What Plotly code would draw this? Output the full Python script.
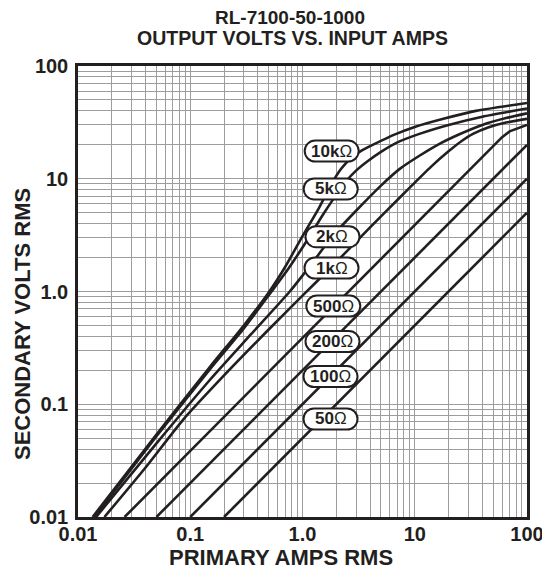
import numpy as np
import plotly.graph_objects as go

# ---------------- data ----------------
x_tickvals = [0.01, 0.1, 1, 10, 100]
x_ticktext = ["0.01", "0.1", "1.0", "10", "100"]
y_tickvals = [0.01, 0.1, 1, 10, 100]
y_ticktext = ["0.01", "0.1", "1.0", "10", "100"]

# primary amps (I) / secondary volts (V) for each burden
r10k_I = [0.0135, 0.05, 0.15, 0.3, 0.5, 0.7, 1.0, 1.4, 1.8, 2.2, 2.7, 3.3, 4.5, 6.5, 10, 18, 35, 100]
r10k_V = [0.01, 0.054, 0.215, 0.5, 0.98, 1.65, 3.1, 5.5, 8.9, 12.2, 15.2, 17.6, 20.6, 24.5, 28.8, 34.0, 40.0, 47.0]

r5k_I = [0.014, 0.05, 0.15, 0.3, 0.53, 0.75, 1.1, 1.5, 1.9, 2.4, 3.0, 3.8, 5.0, 7.0, 11, 20, 40, 100]
r5k_V = [0.01, 0.052, 0.205, 0.47, 1.0, 1.6, 2.85, 4.7, 6.7, 9.3, 11.8, 14.3, 17.3, 21.0, 25.0, 30.0, 35.5, 42.0]

r2k_I = [0.0145, 0.05, 0.15, 0.35, 0.77, 1.2, 1.85, 3.0, 5.0, 7.4, 11, 16, 25, 40, 65, 100]
r2k_V = [0.01, 0.045, 0.165, 0.42, 1.0, 1.75, 3.1, 5.2, 8.7, 12.3, 16.0, 20.0, 24.8, 30.0, 34.5, 38.0]

r1k_I = [0.0172, 0.04, 0.0859, 0.2, 0.5, 1.0, 1.81, 4, 8, 14, 20, 26, 33, 45, 65, 100]
r1k_V = [0.01, 0.0275, 0.0724, 0.18, 0.46, 0.92, 1.65, 3.7, 7.4, 12.8, 17.5, 21.5, 25.0, 28.5, 31.5, 34.0]

r500_I = [0.026, 60, 70, 100]
r500_V = [0.01, 23.4, 26.3, 30.0]

r200_I = [0.05, 100]
r200_V = [0.01, 20.0]

r100_I = [0.1, 100]
r100_V = [0.01, 10.0]

r50_I = [0.2, 100]
r50_V = [0.01, 5.0]

series = [
    ("10k\u03a9", r10k_I, r10k_V, "spline"),
    ("5k\u03a9", r5k_I, r5k_V, "spline"),
    ("2k\u03a9", r2k_I, r2k_V, "spline"),
    ("1k\u03a9", r1k_I, r1k_V, "spline"),
    ("500\u03a9", r500_I, r500_V, "linear"),
    ("200\u03a9", r200_I, r200_V, "linear"),
    ("100\u03a9", r100_I, r100_V, "linear"),
    ("50\u03a9", r50_I, r50_V, "linear"),
]

# label texts and their centre positions (plot-area fractions)
label_text = ["10k", "5k", "2k", "1k", "500", "200", "100", "50"]
label_px = [0.565, 0.5628, 0.5668, 0.5646, 0.5686, 0.5668, 0.5624, 0.5624]
label_py = [0.8115, 0.7273, 0.6215, 0.5521, 0.4678, 0.3891, 0.3115, 0.2173]

# ---------------- styling ----------------
INK = "#231f20"
GRID = "#9d9d9d"
FONT = "Liberation Sans, Arial, Helvetica, sans-serif"

minor_vals = [m * 10.0 ** k for k in range(-2, 2) for m in range(2, 10)]

fig = go.Figure()
for name, xs, ys, shape in series:
    fig.add_trace(go.Scatter(
        x=xs, y=ys, mode="lines", name=name,
        line=dict(color=INK, width=2.6, shape=shape, smoothing=0.6),
        showlegend=False, hoverinfo="skip",
    ))

axis_common = dict(
    type="log", range=[-2, 2], automargin=False,
    showgrid=True, gridcolor=GRID, gridwidth=1,
    showline=True, mirror=True, linecolor=INK, linewidth=2.5,
    ticks="", zeroline=False, ticklabeloverflow="allow",
    minor=dict(tickvals=minor_vals, showgrid=True, gridcolor=GRID, gridwidth=1, ticks=""),
)

fig.update_xaxes(**axis_common, tickvals=x_tickvals, ticktext=x_ticktext,
                 tickfont=dict(family=FONT, size=20, color=INK, weight="bold"),
                 ticklabelstandoff=-3)
fig.update_yaxes(**axis_common, tickvals=y_tickvals, ticktext=y_ticktext,
                 tickfont=dict(family=FONT, size=20, color=INK, weight="bold"),
                 ticklabelstandoff=3)

# rounded label boxes (stadium shape, pixel sized)
W, H = 54.0, 21.0
r = H / 2
a = W / 2 - r
k = 0.5523 * r
stadium = (
    f"M {-a},{-r} L {a},{-r} "
    f"C {a + k},{-r} {a + r},{-k} {a + r},0 "
    f"C {a + r},{k} {a + k},{r} {a},{r} "
    f"L {-a},{r} "
    f"C {-a - k},{r} {-a - r},{k} {-a - r},0 "
    f"C {-a - r},{-k} {-a - k},{-r} {-a},{-r} Z"
)
shapes = []
annotations = []
for txt, px, py in zip(label_text, label_px, label_py):
    shapes.append(dict(
        type="path", xref="paper", yref="paper",
        xsizemode="pixel", ysizemode="pixel", xanchor=px, yanchor=py,
        path=stadium, fillcolor="white", line=dict(color=INK, width=2),
        layer="above",
    ))
    annotations.append(dict(
        xref="paper", yref="paper", x=px, y=py, xanchor="center", yanchor="middle",
        text=f"<b>{txt}</b>\u03a9", showarrow=False,
        font=dict(family=FONT, size=17, color=INK),
    ))

# titles
annotations += [
    dict(xref="paper", yref="paper", x=0.4722, y=1.1075, xanchor="center", yanchor="middle",
         text="<b>RL-7100-50-1000</b>", showarrow=False,
         font=dict(family=FONT, size=19, color=INK)),
    dict(xref="paper", yref="paper", x=0.4777, y=1.0621, xanchor="center", yanchor="middle",
         text="<b>OUTPUT VOLTS VS. INPUT AMPS</b>", showarrow=False,
         font=dict(family=FONT, size=19.5, color=INK)),
    dict(xref="paper", yref="paper", x=0.4532, y=-0.0898, xanchor="center", yanchor="middle",
         text="<b>PRIMARY AMPS RMS</b>", showarrow=False,
         font=dict(family=FONT, size=22, color=INK)),
    dict(xref="paper", yref="paper", x=-0.1247, y=0.4279, xanchor="center", yanchor="middle",
         text="<b>SECONDARY VOLTS RMS</b>", showarrow=False, textangle=-90,
         font=dict(family=FONT, size=22, color=INK)),
]

# the page body adds an 8 px offset, so the figure is sized to fit inside it
fig.update_layout(
    width=542, height=561,
    margin=dict(l=70, r=23, t=58, b=52, autoexpand=False),
    paper_bgcolor="white", plot_bgcolor="white",
    shapes=shapes, annotations=annotations,
    showlegend=False,
)

fig.write_html("out.html")
